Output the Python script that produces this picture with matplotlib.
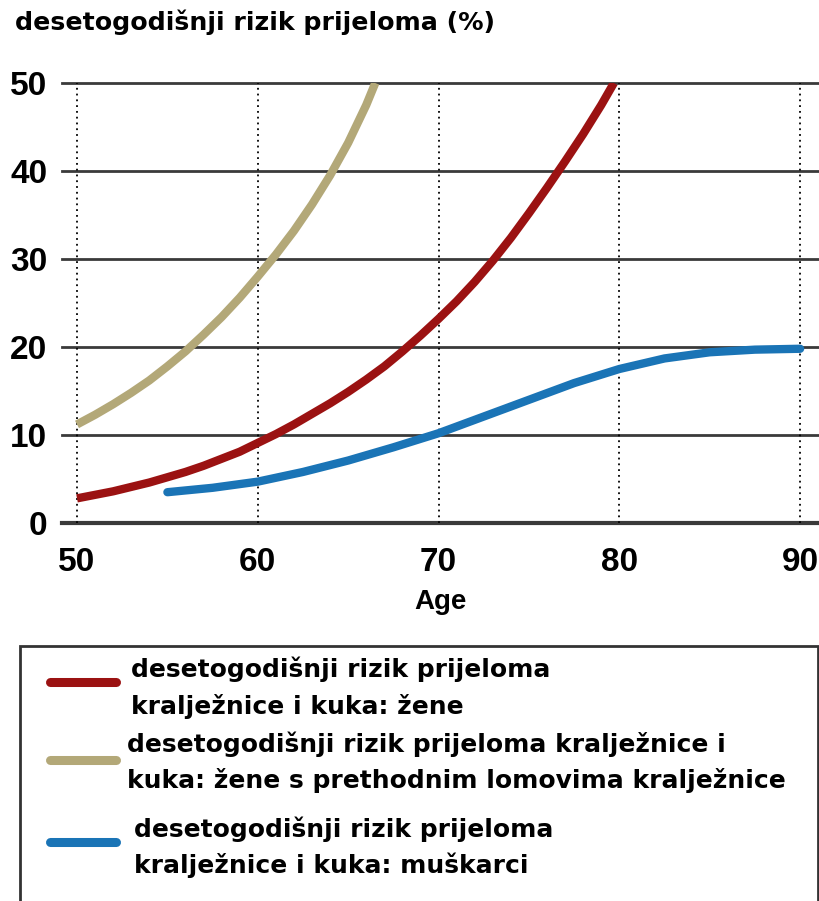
import matplotlib
matplotlib.use("Agg")
import matplotlib.pyplot as plt
from matplotlib.lines import Line2D
from matplotlib.patches import Rectangle

# ---- data ----
age_women = [50, 51, 52, 53, 54, 55, 56, 57, 58, 59, 60, 61, 62, 63, 64, 65, 66, 67,
             68, 69, 70, 71, 72, 73, 74, 75, 76, 77, 78, 79, 79.7]
risk_women = [2.8, 3.2, 3.6, 4.1, 4.6, 5.2, 5.8, 6.5, 7.3, 8.1, 9.1, 10.1, 11.2, 12.4,
              13.6, 14.9, 16.3, 17.8, 19.5, 21.3, 23.2, 25.2, 27.4, 29.8, 32.4, 35.2,
              38.1, 41.1, 44.2, 47.5, 50.0]

age_prev = [50, 51, 52, 53, 54, 55, 56, 57, 58, 59, 60, 61, 62, 63, 64, 65, 66, 66.5]
risk_prev = [11.2, 12.3, 13.5, 14.8, 16.2, 17.8, 19.5, 21.4, 23.4, 25.6, 28.0, 30.5,
             33.2, 36.2, 39.5, 43.2, 47.5, 50.0]

age_men = [55, 57.5, 60, 62.5, 65, 67.5, 70, 72.5, 75, 77.5, 80, 82.5, 85, 87.5, 90]
risk_men = [3.5, 4.0, 4.7, 5.8, 7.1, 8.6, 10.2, 12.1, 14.0, 15.9, 17.5, 18.7, 19.4, 19.7, 19.8]

x_ticks = [50, 60, 70, 80, 90]
y_ticks = [0, 10, 20, 30, 40, 50]

legend_lines = [
    ["desetogodišnji rizik prijeloma", "kralježnice i kuka: žene"],
    ["desetogodišnji rizik prijeloma kralježnice i", "kuka: žene s prethodnim lomovima kralježnice"],
    ["desetogodišnji rizik prijeloma", "kralježnice i kuka: muškarci"],
]
title = "desetogodišnji rizik prijeloma (%)"
xlabel = "Age"

c_red = "#9b1212"
c_tan = "#b3a878"
c_blue = "#1a74b6"
colors = [c_red, c_tan, c_blue]

tick_font = ["Liberation Sans", "DejaVu Sans"]
text_font = ["DejaVu Sans"]

W, H = 820, 901
fig = plt.figure(figsize=(W / 100, H / 100), dpi=100)
ax = fig.add_axes([62 / W, 1 - 523 / H, (820 - 62) / W, (523 - 83) / H])

ax.set_xlim(49.17, 91.1)
ax.set_ylim(0, 50)
ax.patch.set_visible(False)
for s in ax.spines.values():
    s.set_visible(False)

# grid lines
for y in y_ticks:
    ax.axhline(y, color="#3a3a3a", lw=3.0 if y == 0 else 2.0, zorder=1, clip_on=False)
for x in x_ticks:
    ax.axvline(x, color="black", lw=1.3, ls=(0, (1, 2.2)), zorder=1)

ax.plot(age_women, risk_women, color=c_red, lw=6, solid_capstyle="butt",
        solid_joinstyle="round", zorder=3)
ax.plot(age_prev, risk_prev, color=c_tan, lw=6, solid_capstyle="butt",
        solid_joinstyle="round", zorder=3)
ax.plot(age_men, risk_men, color=c_blue, lw=6, solid_capstyle="round",
        solid_joinstyle="round", zorder=3)

ax.set_xticks(x_ticks)
ax.set_yticks(y_ticks)
ax.tick_params(length=0, labelsize=24)
ax.tick_params(axis="y", pad=10.5)
ax.tick_params(axis="x", pad=17)
for lab in ax.get_xticklabels() + ax.get_yticklabels():
    lab.set_family(tick_font)
    lab.set_fontweight("bold")

ax.set_xlabel(xlabel, family=tick_font, fontweight="bold", fontsize=20, labelpad=8)

fig.text(15 / W, 1 - 30 / H, title, family=text_font, fontweight="bold",
         fontsize=18.2, va="baseline", ha="left")

# legend box (open at the bottom, as in the reference)
fig.patches.append(Rectangle((20 / W, -0.02), (818 - 20) / W, 1 - 646 / H + 0.02,
                             transform=fig.transFigure, fill=False,
                             edgecolor="#333333", lw=2))

handle_y = [682, 760, 842]
text_x = [131, 127, 134]
baselines = [[677, 714], [752, 788], [837, 873]]
for c, hy, tx, bl, lines in zip(colors, handle_y, text_x, baselines, legend_lines):
    fig.add_artist(Line2D([50 / W, 116 / W], [1 - hy / H, 1 - hy / H],
                          transform=fig.transFigure, color=c, lw=6.5,
                          solid_capstyle="round"))
    for b, line in zip(bl, lines):
        fig.text(tx / W, 1 - b / H, line, family=text_font, fontweight="bold",
                 fontsize=18, va="baseline", ha="left")

fig.savefig("out.png", dpi=100)
